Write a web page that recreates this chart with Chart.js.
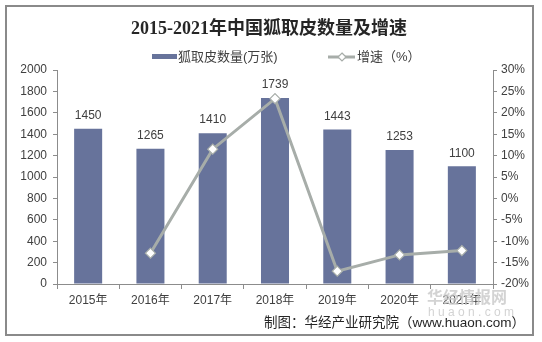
<!DOCTYPE html>
<html>
<head>
<meta charset="utf-8">
<script src="https://cdn.jsdelivr.net/npm/chart.js@4"></script>
<style>
  html, body { margin: 0; padding: 0; background: #fff; }
  #wrap { width: 542px; height: 342px; position: relative; }
</style>
</head>
<body>
<div id="wrap"><canvas id="foxChart" width="542" height="342"></canvas></div>
<script>
var years = ['2015年', '2016年', '2017年', '2018年', '2019年', '2020年', '2021年'];
var peltCount = [1450, 1265, 1410, 1739, 1443, 1253, 1100];
var growthRate = [null, -12.8, 11.5, 23.3, -17.0, -13.2, -12.2];
var leftTicks = [0, 200, 400, 600, 800, 1000, 1200, 1400, 1600, 1800, 2000];
var rightTicks = [-20, -15, -10, -5, 0, 5, 10, 15, 20, 25, 30];

var barColor = '#67739b';
var lineColor = '#a7ada9';
var textColor = '#404040';
var cjk = '"Liberation Sans", "Noto Sans CJK SC", sans-serif';

// frame, title, legend, labels, footer
var decorPlugin = {
    id: 'decor',
    beforeDraw: function(chart) {
        var ctx = chart.ctx;
        ctx.save();
        ctx.fillStyle = '#fff';
        ctx.fillRect(0, 0, chart.width, chart.height);
        ctx.restore();
    },
    afterDraw: function(chart) {
        var ctx = chart.ctx;
        ctx.save();
        // outer frame
        ctx.strokeStyle = '#8a8a8a';
        ctx.lineWidth = 2;
        ctx.strokeRect(6, 6, 527, 329);

        // title
        ctx.fillStyle = '#262626';
        ctx.font = 'bold 18px "Liberation Serif", "Noto Sans CJK SC", serif';
        ctx.textAlign = 'center';
        ctx.textBaseline = 'middle';
        ctx.fillText('2015-2021年中国狐取皮数量及增速', 269, 29);

        // legend
        ctx.font = '13px ' + cjk;
        ctx.textAlign = 'left';
        ctx.fillStyle = barColor;
        ctx.fillRect(152, 54, 25, 5);
        ctx.fillStyle = textColor;
        ctx.fillText('狐取皮数量(万张)', 178, 57);
        ctx.strokeStyle = lineColor;
        ctx.lineWidth = 3;
        ctx.beginPath();
        ctx.moveTo(328, 57);
        ctx.lineTo(355, 57);
        ctx.stroke();
        ctx.fillStyle = '#fff';
        ctx.lineWidth = 1.2;
        ctx.beginPath();
        ctx.moveTo(342, 53); ctx.lineTo(346, 57); ctx.lineTo(342, 61); ctx.lineTo(338, 57);
        ctx.closePath();
        ctx.fill();
        ctx.stroke();
        ctx.fillStyle = textColor;
        ctx.fillText('增速（%）', 357, 57);

        // value labels above bars
        var meta = chart.getDatasetMeta(0);
        ctx.font = '12px "Liberation Sans", Arial, sans-serif';
        ctx.textAlign = 'center';
        ctx.fillStyle = textColor;
        meta.data.forEach(function(bar, i) {
            ctx.fillText(String(peltCount[i]), bar.x, bar.y - 13);
        });

        // watermark
        ctx.fillStyle = 'rgba(200,200,200,0.8)';
        ctx.font = 'bold 16px "Noto Sans CJK SC", sans-serif';
        ctx.textAlign = 'left';
        ctx.fillText('华经情报网', 427, 297);
        ctx.font = '12px "Liberation Sans", sans-serif';
        ctx.fillText('h u a o n . c o m', 428, 313);

        // footer
        ctx.fillStyle = '#262626';
        ctx.font = '13.5px ' + cjk;
        ctx.textAlign = 'right';
        ctx.fillText('制图：华经产业研究院（www.huaon.com）', 525, 323);
        ctx.restore();
    }
};

var ctx = document.getElementById('foxChart').getContext('2d');
var foxChart = new Chart(ctx, {
    type: 'bar',
    data: {
        labels: years,
        datasets: [{
            type: 'bar',
            label: '狐取皮数量(万张)',
            data: peltCount,
            backgroundColor: barColor,
            categoryPercentage: 1,
            barPercentage: 0.45,
            yAxisID: 'y',
            order: 2
        }, {
            type: 'line',
            label: '增速（%）',
            data: growthRate,
            borderColor: lineColor,
            borderWidth: 3,
            pointStyle: 'rectRot',
            pointRadius: 5,
            pointBackgroundColor: '#fff',
            pointBorderColor: lineColor,
            pointBorderWidth: 1.2,
            tension: 0,
            yAxisID: 'y1',
            order: 1
        }]
    },
    options: {
        responsive: false,
        animation: false,
        devicePixelRatio: 1,
        layout: { padding: { left: 6, right: 6, top: 70, bottom: 8 } },
        plugins: {
            legend: { display: false },
            title: { display: false },
            tooltip: { enabled: false }
        },
        scales: {
            x: {
                offset: true,
                grid: { offset: true, drawOnChartArea: false, drawTicks: true, tickLength: 5, color: '#8c8c8c' },
                border: { color: '#8c8c8c' },
                ticks: { color: textColor, font: { family: cjk, size: 12 }, padding: 4, maxRotation: 0 },
                afterFit: function(scale) { scale.height = 50; }
            },
            y: {
                position: 'left',
                min: 0,
                max: 2000,
                afterBuildTicks: function(scale) {
                    scale.ticks = leftTicks.map(function(v) { return { value: v }; });
                },
                grid: { drawOnChartArea: false, drawTicks: true, tickLength: 4, color: '#8c8c8c' },
                border: { color: '#8c8c8c' },
                ticks: {
                    color: textColor,
                    font: { family: '"Liberation Sans", Arial, sans-serif', size: 12 },
                    padding: 6,
                    callback: function(v) { return String(v); }
                },
                afterFit: function(scale) { scale.width = 51; }
            },
            y1: {
                position: 'right',
                min: -20,
                max: 30,
                afterBuildTicks: function(scale) {
                    scale.ticks = rightTicks.map(function(v) { return { value: v }; });
                },
                grid: { drawOnChartArea: false, drawTicks: true, tickLength: 4, color: '#8c8c8c' },
                border: { color: '#8c8c8c' },
                ticks: {
                    color: textColor,
                    font: { family: '"Liberation Sans", Arial, sans-serif', size: 12 },
                    padding: 4,
                    callback: function(v) { return v + '%'; }
                },
                afterFit: function(scale) { scale.width = 43; }
            }
        }
    },
    plugins: [decorPlugin]
});
</script>
</body>
</html>
